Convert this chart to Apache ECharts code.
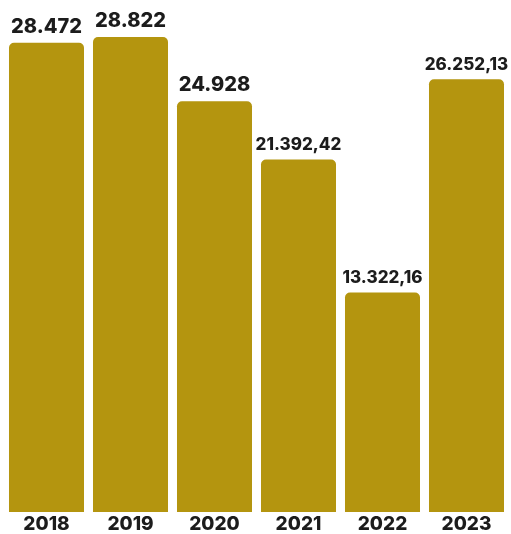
<!DOCTYPE html>
<html>
<head>
<meta charset="utf-8">
<script src="https://cdn.jsdelivr.net/npm/echarts@6/dist/echarts.min.js"></script>
<style>
  html, body { margin: 0; padding: 0; background: #ffffff; }
  #chart { width: 511px; height: 534px; }
</style>
</head>
<body>
<div id="chart"></div>
<script>
// Yearly totals
const years = ['2018', '2019', '2020', '2021', '2022', '2023'];
const totals = [28472, 28822, 24928, 21392.42, 13322.16, 26252.13];

// German-style number formatting: "." for thousands, "," for decimals (only when present)
function formatDe(v) {
  const hasDecimals = Math.round(v * 100) % 100 !== 0;
  const fixed = hasDecimals ? v.toFixed(2) : Math.round(v).toString();
  const [intPart, decPart] = fixed.split('.');
  const grouped = intPart.replace(/\B(?=(\d{3})+(?!\d))/g, '.');
  return decPart ? grouped + ',' + decPart : grouped;
}

const chart = echarts.init(document.getElementById('chart'), null, { renderer: 'canvas' });

const barData = totals.map(v => {
  const isWhole = Math.round(v * 100) % 100 === 0;
  return {
    value: v,
    label: { fontSize: isWhole ? 20 : 17 }
  };
});

chart.setOption({
  animation: false,
  grid: { left: 4.5, right: 2.5, top: 37, bottom: 22, containLabel: false },
  xAxis: {
    type: 'category',
    data: years,
    axisLine: { show: false },
    axisTick: { show: false },
    axisLabel: {
      color: '#1c1c1c',
      fontFamily: 'Inter',
      fontWeight: 800,
      fontSize: 19,
      margin: 3,
      verticalAlign: 'top'
    }
  },
  yAxis: {
    type: 'value',
    min: 0,
    max: 28822,
    show: false,
    splitLine: { show: false }
  },
  series: [{
    type: 'bar',
    data: barData,
    barCategoryGap: '10.7%',
    itemStyle: { color: '#B4950F', borderRadius: [5, 5, 0, 0] },
    label: {
      show: true,
      position: 'top',
      distance: 6,
      color: '#1c1c1c',
      fontFamily: 'Inter',
      fontWeight: 800,
      formatter: p => formatDe(p.value)
    }
  }]
});
</script>
</body>
</html>
